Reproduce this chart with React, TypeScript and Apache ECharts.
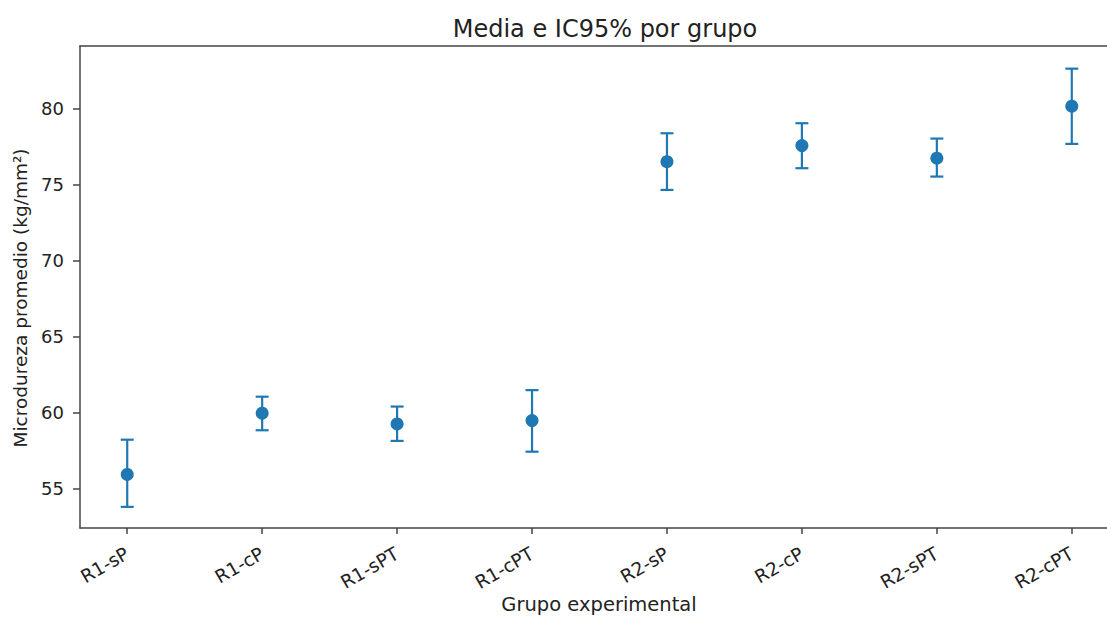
import React, { useEffect, useRef } from "react";
import * as echarts from "echarts";

const categories = ["R1-sP", "R1-cP", "R1-sPT", "R1-cPT", "R2-sP", "R2-cP", "R2-sPT", "R2-cPT"];
const means = [55.95, 59.98, 59.28, 59.5, 76.53, 77.59, 76.76, 80.18];
const lowers = [53.82, 58.86, 58.16, 57.45, 74.67, 76.1, 75.55, 77.7];
const uppers = [58.24, 61.07, 60.42, 61.5, 78.4, 79.06, 78.05, 82.65];
const yTicks = [55, 60, 65, 70, 75, 80];
const xTicks = [0, 1, 2, 3, 4, 5, 6, 7];

const FONT = "DejaVu Sans";
const BLUE = "#1f77b4";
const TXT = "#222";

export default function App() {
  const ref = useRef<HTMLDivElement>(null);
  useEffect(() => {
    document.body.style.margin = "0";
    document.body.style.overflow = "hidden";
    document.documentElement.style.overflow = "hidden";
    const chart = echarts.init(ref.current!, null, { renderer: "svg" });
    const errData = categories.map((_, i) => [i, lowers[i], uppers[i]]);
    const ptData = categories.map((_, i) => [i, means[i]]);
    chart.setOption({
      animation: false,
      title: {
        text: "Media e IC95% por grupo",
        left: 600,
        top: 12,
        textAlign: "center",
        textStyle: { fontFamily: FONT, fontSize: 24, fontWeight: "normal", color: TXT },
      },
      grid: {
        left: 80,
        top: 46,
        right: 21,
        bottom: 89,
        show: false,
      },
      xAxis: [
        {
          type: "value",
          min: -0.35,
          max: 7.35,
          splitLine: { show: false },
          axisLine: { show: true, onZero: false, lineStyle: { color: "#444", width: 1.5 } },
          axisTick: { show: true, length: 6, customValues: xTicks, lineStyle: { color: "#444", width: 1.5 } },
          axisLabel: {
            customValues: xTicks,
            rotate: 30,
            margin: 24,
            fontFamily: FONT,
            fontSize: 18.5,
            color: TXT,
            formatter: (v: number) => categories[Math.round(v)] ?? "",
          },
        },
        {
          type: "value",
          position: "top",
          min: -0.35,
          max: 7.35,
          splitLine: { show: false },
          axisLine: { show: true, onZero: false, lineStyle: { color: "#444", width: 1.5 } },
          axisTick: { show: false },
          axisLabel: { show: false },
        },
      ],
      yAxis: {
        type: "value",
        min: 52.43,
        max: 84.14,
        splitLine: { show: false },
        axisLine: { show: true, onZero: false, lineStyle: { color: "#444", width: 1.5 } },
        axisTick: { show: true, length: 7, customValues: yTicks, lineStyle: { color: "#444", width: 1.5 } },
        axisLabel: {
          customValues: yTicks,
          margin: 16,
          fontFamily: FONT,
          fontSize: 18,
          color: TXT,
        },
      },
      graphic: [
        {
          type: "text",
          x: 599,
          y: 604,
          style: {
            text: "Grupo experimental",
            fontFamily: FONT,
            fontSize: 19.5,
            fill: TXT,
            textAlign: "center",
            textVerticalAlign: "middle",
          },
        },
        {
          type: "text",
          x: 20,
          y: 298,
          rotation: Math.PI / 2,
          style: {
            text: "Microdureza promedio (kg/mm²)",
            fontFamily: FONT,
            fontSize: 18.5,
            fill: TXT,
            textAlign: "center",
            textVerticalAlign: "middle",
          },
        },
      ],
      series: [
        {
          type: "custom",
          data: errData,
          renderItem: (params: any, api: any) => {
            const x = api.value(0);
            const lo = api.coord([x, api.value(1)]);
            const hi = api.coord([x, api.value(2)]);
            const cap = 6.5;
            const style = { stroke: BLUE, lineWidth: 2.2 };
            return {
              type: "group",
              children: [
                { type: "line", shape: { x1: lo[0], y1: lo[1], x2: hi[0], y2: hi[1] }, style },
                { type: "line", shape: { x1: lo[0] - cap, y1: lo[1], x2: lo[0] + cap, y2: lo[1] }, style },
                { type: "line", shape: { x1: hi[0] - cap, y1: hi[1], x2: hi[0] + cap, y2: hi[1] }, style },
              ],
            };
          },
          z: 2,
        },
        {
          type: "scatter",
          data: ptData,
          symbol: "circle",
          symbolSize: 13,
          itemStyle: { color: BLUE, opacity: 1 },
          z: 3,
        },
      ],
    });
    return () => chart.dispose();
  }, []);
  return <div ref={ref} style={{ width: 1140, height: 617 }} />;
}
